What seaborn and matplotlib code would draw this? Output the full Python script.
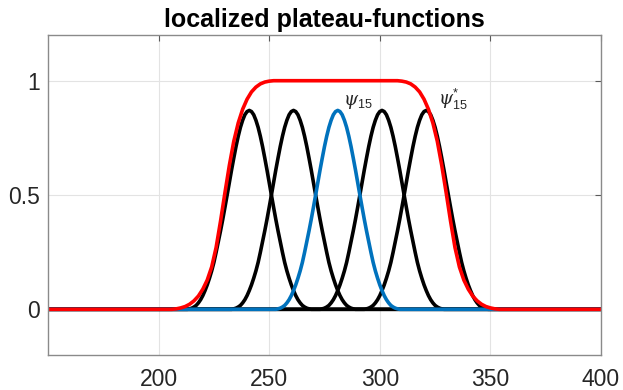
import numpy as np
import pandas as pd
import matplotlib
matplotlib.use("Agg")
import matplotlib.pyplot as plt
import seaborn as sns

# === Data ===
x_range = [150, 400]

# centres of the localized bumps (the blue one is psi_15)
bump_centers = [241, 261, 301, 321]
blue_center = 281

# half profile of one bump (offset from centre -> value), mirrored below
half_offsets = list(range(0, 29))
half_values = [0.870, 0.865, 0.851, 0.827, 0.796, 0.757, 0.712, 0.662, 0.610, 0.555,
               0.500, 0.446, 0.393, 0.343, 0.296, 0.249, 0.205, 0.168, 0.136, 0.107,
               0.082, 0.060, 0.042, 0.028, 0.017, 0.010, 0.005, 0.002, 0.0]

# plateau function psi*_15 (red), rising edge; falling edge mirrors it about x = 280
rise_x = [150, 206, 208, 210, 212, 214, 216, 218, 220, 222, 224, 226, 228, 230,
          232, 234, 236, 238, 240, 242, 244, 246, 248, 250, 252, 254]
rise_y = [0, 0, 0.002, 0.006, 0.012, 0.022, 0.037, 0.058, 0.088, 0.128, 0.185, 0.270, 0.385, 0.510,
          0.630, 0.735, 0.815, 0.875, 0.919, 0.951, 0.972, 0.986, 0.994, 0.998, 1.0, 1.0]
mirror_at = 280

x_ticks = [200, 250, 300, 350, 400]
y_ticks = [0, 0.5, 1]
y_ticklabels = ["0", "0.5", "1"]

# === Build full curves ===
offsets = [-o for o in half_offsets[::-1]] + half_offsets[1:]
values = half_values[::-1] + half_values[1:]


def bump_frame(center):
    xs = [x_range[0]] + [center + o for o in offsets] + [x_range[1]]
    ys = [0.0] + values + [0.0]
    return pd.DataFrame({"x": xs, "y": ys})


plateau = pd.DataFrame({
    "x": rise_x + [2 * mirror_at - v for v in rise_x[::-1]],
    "y": rise_y + rise_y[::-1],
})

sns.set_style("white")
plt.rcParams["font.family"] = ["Liberation Sans", "DejaVu Sans"]
plt.rcParams["mathtext.fontset"] = "custom"
plt.rcParams["mathtext.it"] = "DejaVu Serif:italic"
plt.rcParams["mathtext.rm"] = "Liberation Sans"

fig = plt.figure(figsize=(6.23, 3.90), dpi=100)
ax = fig.add_axes([0.077, 0.0897, 0.8877, 0.8206])

lw = 2.6
for c in bump_centers:
    sns.lineplot(data=bump_frame(c), x="x", y="y", color="black", linewidth=lw,
                 estimator=None, sort=False, ax=ax)
sns.lineplot(data=bump_frame(blue_center), x="x", y="y", color="#0072BD", linewidth=lw,
             estimator=None, sort=False, ax=ax)
sns.lineplot(data=plateau, x="x", y="y", color="#FF0000", linewidth=lw,
             estimator=None, sort=False, ax=ax)

# labels
ax.text(283.5, 0.895, r"$\psi_{\mathrm{15}}$", fontsize=13, color="#262626")
ax.text(326.3, 0.895, r"$\psi^{*}_{\mathrm{15}}$", fontsize=13, color="#262626")

ax.set_xlim(x_range)
ax.set_ylim(-0.2, 1.2)
ax.set_xticks(x_ticks)
ax.set_yticks(y_ticks)
ax.set_yticklabels(y_ticklabels)
ax.set_xlabel("")
ax.set_ylabel("")

ax.grid(True, color="#e3e3e3", linewidth=0.8)
ax.set_axisbelow(True)
for s in ax.spines.values():
    s.set_color("#8a8a8a")
    s.set_linewidth(1.0)
ax.tick_params(direction="in", length=4, width=0.8, color="#5a5a5a",
               top=True, right=True, labelsize=16.5, labelcolor="#262626")
ax.tick_params(axis="x", pad=9)
ax.tick_params(axis="y", pad=6)

ax.set_title("localized plateau-functions", fontsize=18, fontweight="bold",
             color="black", pad=6)

fig.savefig("out.png", dpi=100)
